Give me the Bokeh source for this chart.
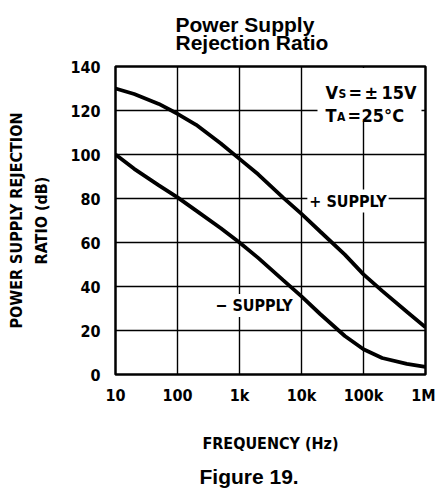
from bokeh.plotting import figure
from bokeh.models import FixedTicker, Label, BoxAnnotation, Title
from bokeh.embed import file_html
from bokeh.resources import INLINE

# ---- data ----
freq_hz = [10, 20, 50, 100, 200, 500, 1e3, 2e3, 5e3, 1e4, 2e4, 5e4, 1e5, 2e5, 5e5, 1e6]
psrr_pos_supply = [130, 127.5, 123, 118.5, 113.5, 105, 98, 91, 80.5, 73, 65, 54.5, 45.5, 38, 28.5, 21.5]
psrr_neg_supply = [100, 93.5, 86, 80.5, 74.5, 66.5, 60, 53, 43, 35.5, 27.5, 17.5, 11.5, 7.5, 4.8, 3.5]
x_ticks = [10, 100, 1000, 10000, 100000, 1000000]
x_tick_labels = ["10", "100", "1k", "10k", "100k", "1M"]
y_ticks = [0, 20, 40, 60, 80, 100, 120, 140]

NARROW = "DejaVu Sans Condensed"
SANS = "Liberation Sans"

W, H = 435, 495
BL, BR, BT, BB = 115, 10, 66, 121
FW, FH = W - BL - BR, H - BT - BB

def dx(px):
    """canvas x pixel -> frequency (for placing annotations)"""
    return 10 ** (1 + 5 * (px - BL) / FW)

def dy(py):
    """canvas y pixel -> dB (for placing annotations)"""
    return 140 * (BT + FH - py) / FH

p = figure(width=W, height=H, x_axis_type="log", x_range=(10, 1e6), y_range=(0, 140),
           output_backend="svg", toolbar_location=None,
           min_border_left=BL, min_border_right=BR, min_border_top=BT, min_border_bottom=BB)
p.background_fill_color = "white"
p.border_fill_color = "white"
p.outline_line_color = "black"
p.outline_line_width = 2.5

# grid
p.xgrid.ticker = FixedTicker(ticks=x_ticks)
p.ygrid.ticker = FixedTicker(ticks=y_ticks)
for g in (p.xgrid, p.ygrid):
    g.grid_line_color = "black"
    g.grid_line_width = 1.4
    g.grid_line_alpha = 1.0
    g.minor_grid_line_color = None

# axes
p.xaxis.ticker = FixedTicker(ticks=x_ticks)
p.xaxis.major_label_overrides = {t: l for t, l in zip(x_ticks, x_tick_labels)}
p.yaxis.ticker = FixedTicker(ticks=y_ticks)
for ax in (p.xaxis, p.yaxis):
    ax.axis_line_color = None
    ax.major_tick_line_color = None
    ax.minor_tick_line_color = None
    ax.major_tick_out = 0
    ax.major_tick_in = 0
    ax.minor_tick_out = 0
    ax.major_label_text_font = NARROW
    ax.major_label_text_font_style = "bold"
    ax.major_label_text_font_size = "16px"
    ax.major_label_text_color = "black"
    ax.axis_label_text_font = NARROW
    ax.axis_label_text_font_style = "bold"
    ax.axis_label_text_font_size = "16px"
    ax.axis_label_text_color = "black"
p.xaxis.major_label_standoff = 11
p.yaxis.major_label_standoff = 15
p.xaxis.axis_label = "FREQUENCY (Hz)"
p.xaxis.axis_label_standoff = 26
p.yaxis.axis_label = "POWER SUPPLY REJECTION\nRATIO (dB)"
p.yaxis.axis_label_text_line_height = 1.34
p.yaxis.axis_label_standoff = 16

# title (two lines) and caption
p.add_layout(Title(text="Power Supply\nRejection Ratio", align="left", offset=60,
                   vertical_align="top", standoff=21, text_font=SANS, text_font_style="bold",
                   text_font_size="21px", text_line_height=0.8, text_color="black"), "above")
p.add_layout(Title(text="Figure 19.", align="left", offset=84, vertical_align="bottom",
                   standoff=14, text_font=SANS, text_font_style="bold",
                   text_font_size="21px", text_color="black"), "below")

# blank box behind the conditions text
p.add_layout(BoxAnnotation(left=dx(317), right=dx(421), top=dy(67.5), bottom=dy(121),
                           fill_color="white", fill_alpha=1.0, line_color=None))

# curves
p.line(freq_hz, psrr_pos_supply, line_color="black", line_width=3.8)
p.line(freq_hz, psrr_neg_supply, line_color="black", line_width=3.8)

def lab(text, x, y, size="18px", align="left", baseline="alphabetic", bg=None):
    l = Label(x=x, y=y, text=text, text_font=NARROW, text_font_style="bold", text_font_size=size,
              text_color="black", text_align=align, text_baseline=baseline)
    if bg:
        l.background_fill_color = bg
        l.background_fill_alpha = 1.0
        l.padding = 2
    p.add_layout(l)

# curve labels
lab("+ SUPPLY", dx(347.5), dy(200.5), size="16px", align="center", baseline="middle", bg="white")
lab("\u2212 SUPPLY", dx(253.5), dy(305), size="16px", align="center", baseline="middle", bg="white")
# conditions
lab("V", dx(325), dy(91.7))
lab("S", dx(338), dy(93), size="12px")
lab("=", dx(348), dy(91.7))
lab("\u00b1", dx(364), dy(91.7))
lab("15V", dx(381), dy(91.7))
lab("T", dx(325), dy(115))
lab("A", dx(336.5), dy(116), size="12px")
lab("=", dx(347), dy(115))
lab("25\u00b0C", dx(361), dy(115))

open("out.html", "w").write(file_html(p, INLINE))
